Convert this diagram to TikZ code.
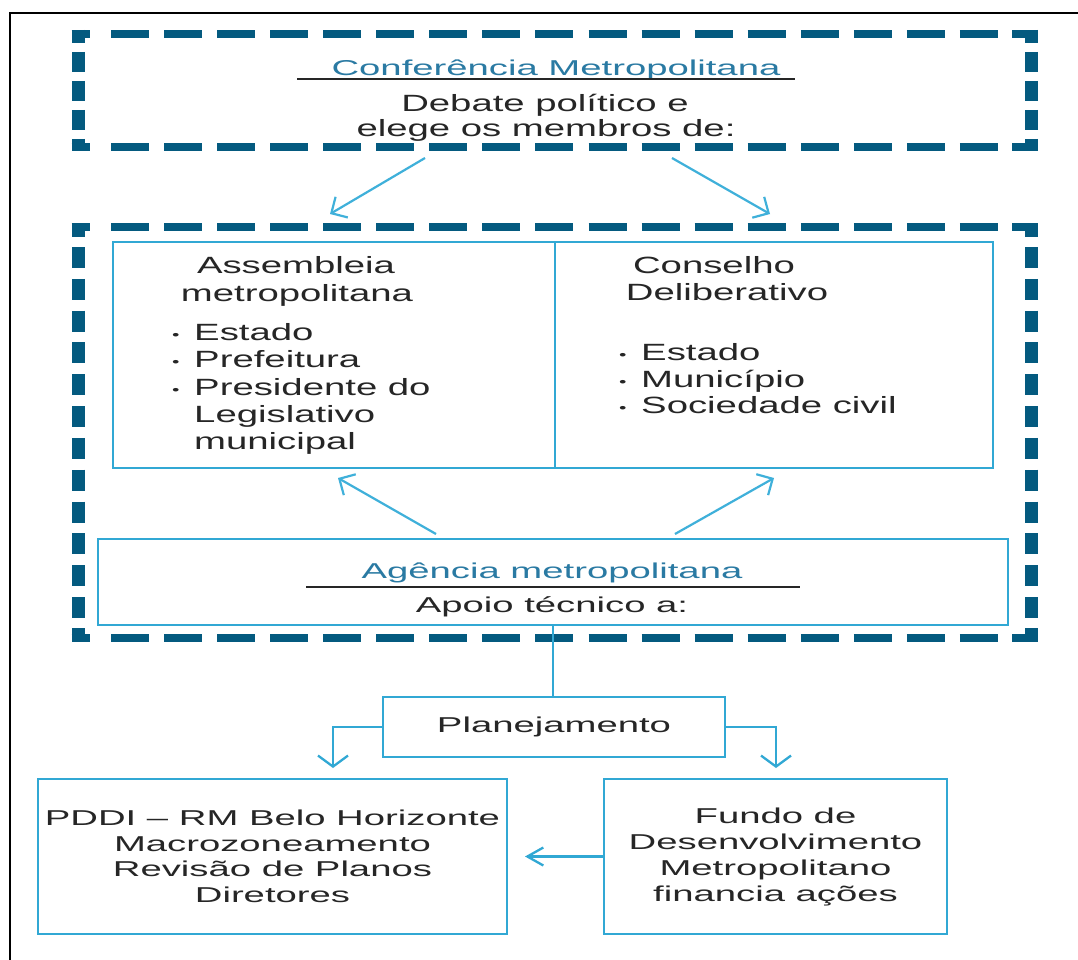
\documentclass[tikz,border=0pt]{standalone}
\usepackage{fontspec}
\setmainfont{Liberation Sans}
\newfontfamily\bodyf{Liberation Sans}[FakeStretch=1.63]
\newfontfamily\smallf{Liberation Sans}[FakeStretch=1.78]
\usetikzlibrary{arrows.meta,calc}
\definecolor{dashblue}{HTML}{045A7F}
\definecolor{lineblue}{HTML}{31A8D4}
\definecolor{arrowblue}{HTML}{3FB0DA}
\definecolor{headblue}{HTML}{2A7AA3}
\definecolor{ink}{HTML}{262626}
% small list bullet followed by its gap
\newcommand\itemdot{\makebox[22pt][l]{\raisebox{1pt}{\fontsize{13}{13}\selectfont•}}}
\begin{document}
\begin{tikzpicture}[x=1pt,y=-1pt,
  box/.style={draw=lineblue,line width=2.3pt,inner sep=0pt},
  conn/.style={draw=lineblue,line width=2.3pt},
  diag/.style={draw=arrowblue,line width=2.2pt,-{Straight Barb[length=12pt,width=24pt]}},
  downtip/.style={-{Straight Barb[length=11pt,width=30pt]}},
  lefttip/.style={-{Straight Barb[length=16pt,width=18pt]}},
  bigtxt/.style={font=\bodyf\fontsize{23.5}{28}\selectfont,text=ink,inner sep=0pt,anchor=base},
  smalltxt/.style={font=\smallf\fontsize{21.5}{26}\selectfont,text=ink,inner sep=0pt,anchor=base},
  heading/.style={smalltxt,text=headblue},
  rule/.style={draw=ink,line width=2.5pt},
  hdash/.style={draw=dashblue,line width=8pt},
  vdash/.style={draw=dashblue,line width=13pt},
]
\useasboundingbox (0,0) rectangle (1078,960);
\fill[white] (0,0) rectangle (1078,960);

% page frame
\draw[black,line width=2pt] (10,960) -- (10,13) -- (1078,13);

% ---------- dashed frame: conference ----------
\node[minimum width=953pt,minimum height=113pt,inner sep=0pt] (conf) at (554.5,90.5) {};
\draw[hdash] (71.5,34) -- (90,34);   \draw[vdash] (78,30) -- (78,43);
\draw[hdash] (1012,34) -- (1037.5,34); \draw[vdash] (1031,30) -- (1031,43);
\draw[hdash] (71.5,147) -- (90,147);  \draw[vdash] (78,139) -- (78,151);
\draw[hdash] (1012,147) -- (1037.5,147); \draw[vdash] (1031,139) -- (1031,151);
\draw[hdash,dash pattern=on 38pt off 15.06pt] (111,34) -- (998,34);
\draw[hdash,dash pattern=on 38pt off 15.06pt] (111,147) -- (998,147);
\draw[vdash,dash pattern=on 20pt off 9pt] (78,52) -- (78,130);
\draw[vdash,dash pattern=on 20pt off 9pt] (1031,52) -- (1031,130);

\node[heading] (conftitle) at (556,76) {Conferência Metropolitana};
\draw[rule] (297,79) -- (795,79);
\node[bigtxt] (deb1) at (545,112) {Debate político e};
\node[bigtxt] (deb2) at (546,137) {elege os membros de:};

% ---------- dashed frame: metropolitan bodies ----------
\node[minimum width=953pt,minimum height=411pt,inner sep=0pt] (grp) at (554.5,432.5) {};
\draw[hdash] (71.5,227) -- (90,227);   \draw[vdash] (78,223) -- (78,237);
\draw[hdash] (1012,227) -- (1037.5,227); \draw[vdash] (1031,223) -- (1031,237);
\draw[hdash] (71.5,638) -- (90,638);  \draw[vdash] (78,628) -- (78,642);
\draw[hdash] (1012,638) -- (1037.5,638); \draw[vdash] (1031,628) -- (1031,642);
\draw[hdash,dash pattern=on 38pt off 15.06pt] (111,227) -- (998,227);
\draw[hdash,dash pattern=on 38pt off 15.06pt] (111,638) -- (998,638);
\draw[vdash,dash pattern=on 21pt off 10.82pt] (78,247) -- (78,618);
\draw[vdash,dash pattern=on 21pt off 10.82pt] (1031,247) -- (1031,618);

% assembly and council
\node[box,minimum width=442pt,minimum height=226pt] (asm) at (334,355) {};
\node[box,minimum width=438pt,minimum height=226pt] (cons) at (774,355) {};

\node[bigtxt] (asmT1) at (296,273) {Assembleia};
\node[bigtxt] (asmT2) at (297,301) {metropolitana};
\node[bigtxt,anchor=base west] (asmI1) at (172,340) {\itemdot Estado};
\node[bigtxt,anchor=base west] (asmI2) at (172,367) {\itemdot Prefeitura};
\node[bigtxt,anchor=base west] (asmI3) at (172,395) {\itemdot Presidente do};
\node[bigtxt,anchor=base west] (asmI4) at (194,422) {Legislativo};
\node[bigtxt,anchor=base west] (asmI5) at (194,449) {municipal};

\node[bigtxt] (conT1) at (714,273) {Conselho};
\node[bigtxt] (conT2) at (727,300) {Deliberativo};
\node[bigtxt,anchor=base west] (conI1) at (619,360) {\itemdot Estado};
\node[bigtxt,anchor=base west] (conI2) at (619,387) {\itemdot Município};
\node[bigtxt,anchor=base west] (conI3) at (619,413) {\itemdot Sociedade civil};

% agency
\node[box,minimum width=910pt,minimum height=86pt] (agen) at (553,582) {};
\node[heading] (agT) at (552,578) {Agência metropolitana};
\draw[rule] (306,587) -- (800,587);
\node[smalltxt] (agS) at (552,612) {Apoio técnico a:};

% election arrows
\coordinate (c1) at (425,158);
\coordinate (c2) at (672,158);
\coordinate (a1) at (330,214);
\coordinate (a2) at (770,214);
\draw[diag] (c1) -- (a1);
\draw[diag] (c2) -- (a2);

% support arrows
\coordinate (g1) at (436,534);
\coordinate (g2) at (675,534);
\coordinate (u1) at (338,478);
\coordinate (u2) at (774,478);
\draw[diag] (g1) -- (u1);
\draw[diag] (g2) -- (u2);

% planning
\node[box,minimum width=342pt,minimum height=60pt,font=\smallf\fontsize{21.5}{26}\selectfont,text=ink] (plan) at (554,727) {Planejamento};
\draw[conn] (agen.south) -- (agen.south |- plan.north);

\node[box,minimum width=469pt,minimum height=155pt,align=center,
      font=\smallf\fontsize{21.5}{25.5}\selectfont,text=ink] (pddi) at (272.5,856.5)
      {PDDI – RM Belo Horizonte\\Macrozoneamento\\Revisão de Planos\\Diretores};
\node[box,minimum width=343pt,minimum height=155pt,align=center,
      font=\smallf\fontsize{21.5}{26}\selectfont,text=ink] (fundo) at (775.5,856.5)
      {Fundo de\\Desenvolvimento\\Metropolitano\\financia ações};

\coordinate (pl) at (333,768);
\coordinate (pr) at (776,768);
\coordinate (pd) at (525,856.5);
\draw[conn,downtip] (plan.west) -| (pl);
\draw[conn,downtip] (plan.east) -| (pr);
\draw[conn,lefttip] (fundo.west) -- (pd);
\end{tikzpicture}
\end{document}
